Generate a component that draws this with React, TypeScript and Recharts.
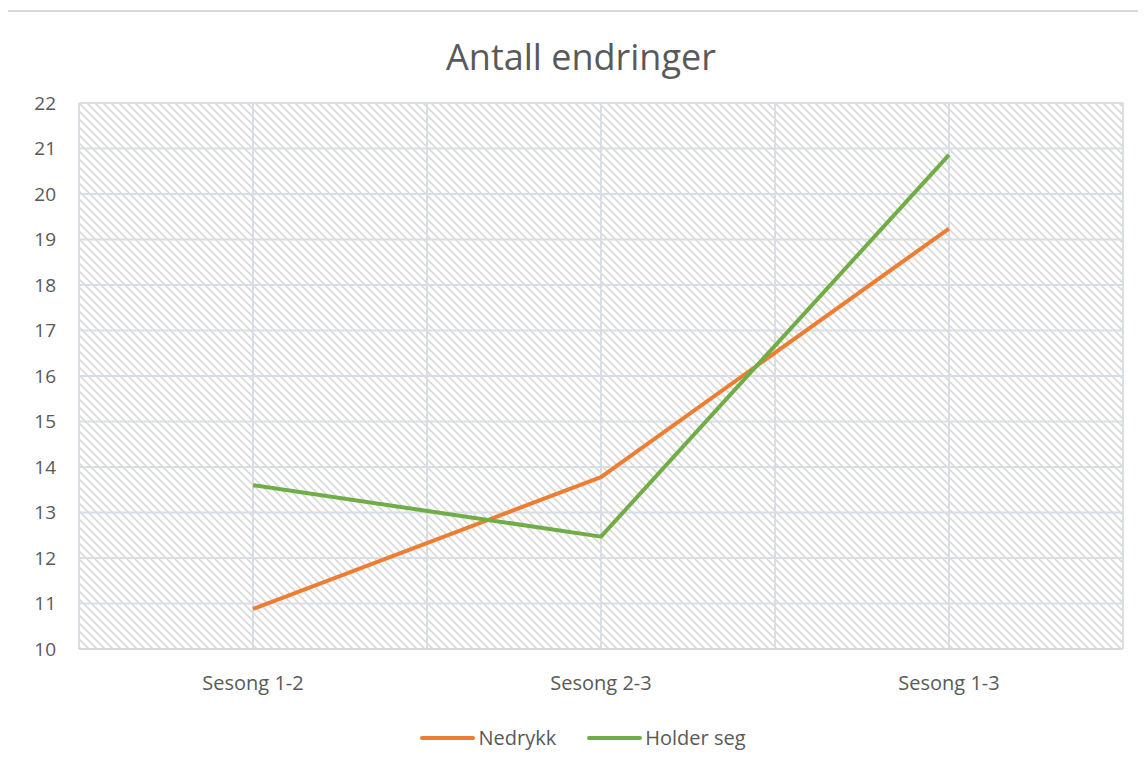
import React from 'react';
import { LineChart, Line, XAxis, YAxis, CartesianGrid, Legend } from 'recharts';

const categories = ['Sesong 1-2', 'Sesong 2-3', 'Sesong 1-3'];
const seriesNames = ['Nedrykk', 'Holder seg'];
const nedrykk = [10.88, 13.78, 19.24];
const holderSeg = [13.6, 12.47, 20.86];
const yTicks = [10, 11, 12, 13, 14, 15, 16, 17, 18, 19, 20, 21, 22];
const xTicks = [-0.5, 0, 0.5, 1, 1.5, 2, 2.5];
const title = 'Antall endringer';

const data = categories.map((c, i) => ({ idx: i, name: c, Nedrykk: nedrykk[i], 'Holder seg': holderSeg[i] }));

const FONT = '"Open Sans", sans-serif';
const TEXT = '#595959';
const GRID = '#d9dde6';

const renderLegend = (props: any) => {
  const payload = [...(props.payload || [])].sort(
    (a: any, b: any) => seriesNames.indexOf(a.value) - seriesNames.indexOf(b.value)
  );
  return (
    <div style={{ display: 'flex', justifyContent: 'center', gap: 30, paddingLeft: 42, fontFamily: FONT, fontSize: 20, color: TEXT, lineHeight: '26px' }}>
      {payload.map((p: any) => (
        <div key={p.value} style={{ display: 'flex', alignItems: 'center' }}>
          <svg width={57} height={10} style={{ marginRight: 2 }}>
            <line x1={3} y1={5} x2={54} y2={5} stroke={p.color} strokeWidth={4} strokeLinecap="round" />
          </svg>
          <span>{p.value}</span>
        </div>
      ))}
    </div>
  );
};

export default function App() {
  return (
    <div style={{ position: 'relative', width: 1146, height: 769, margin: -8, overflow: 'hidden', background: '#fff' }}>
      <div style={{ position: 'absolute', left: 6, top: 10, width: 1300, height: 900, border: '2px solid #d9d9d9' }} />
      <div style={{ position: 'absolute', left: 0, top: 32, width: 1162, textAlign: 'center', fontFamily: FONT, fontSize: 36, color: TEXT }}>
        {title}
      </div>
      <div style={{ position: 'absolute', left: 0, top: 0 }}>
        <LineChart width={1146} height={769} data={data} margin={{ top: 103, right: 23, bottom: 64, left: 0 }}>
          <defs>
            <pattern id="hatch" patternUnits="userSpaceOnUse" width={8} height={8}>
              <rect width={8} height={8} fill="#ffffff" />
              <path d="M0,0 L8,8 M-2,6 L2,10 M6,-2 L10,2" stroke="#dadada" strokeWidth={1.7} />
            </pattern>
          </defs>
          <CartesianGrid stroke={GRID} strokeWidth={2} fill="url(#hatch)" fillOpacity={1} />
          <XAxis
            dataKey="idx"
            type="number"
            domain={[-0.5, 2.5]}
            ticks={xTicks}
            interval={0}
            tickFormatter={(v: number) => (Number.isInteger(v) ? categories[v] : '')}
            axisLine={{ stroke: '#d9d9d9', strokeWidth: 2 }}
            tickLine={false}
            tickMargin={21}
            tick={{ fill: TEXT, fontSize: 20, fontFamily: FONT }}
          />
          <YAxis
            domain={[10, 22]}
            ticks={yTicks}
            interval={0}
            width={79}
            axisLine={false}
            tickLine={false}
            tickSize={23}
            tickMargin={0}
            tick={{ fill: TEXT, fontSize: 19, fontFamily: FONT }}
          />
          <Legend verticalAlign="bottom" content={renderLegend} wrapperStyle={{ bottom: 18 }} />
          <Line dataKey="Nedrykk" stroke="#ED7D31" strokeWidth={4} dot={false} isAnimationActive={false} strokeLinejoin="round" />
          <Line dataKey="Holder seg" stroke="#70AD47" strokeWidth={4} dot={false} isAnimationActive={false} strokeLinejoin="round" />
        </LineChart>
      </div>
    </div>
  );
}
